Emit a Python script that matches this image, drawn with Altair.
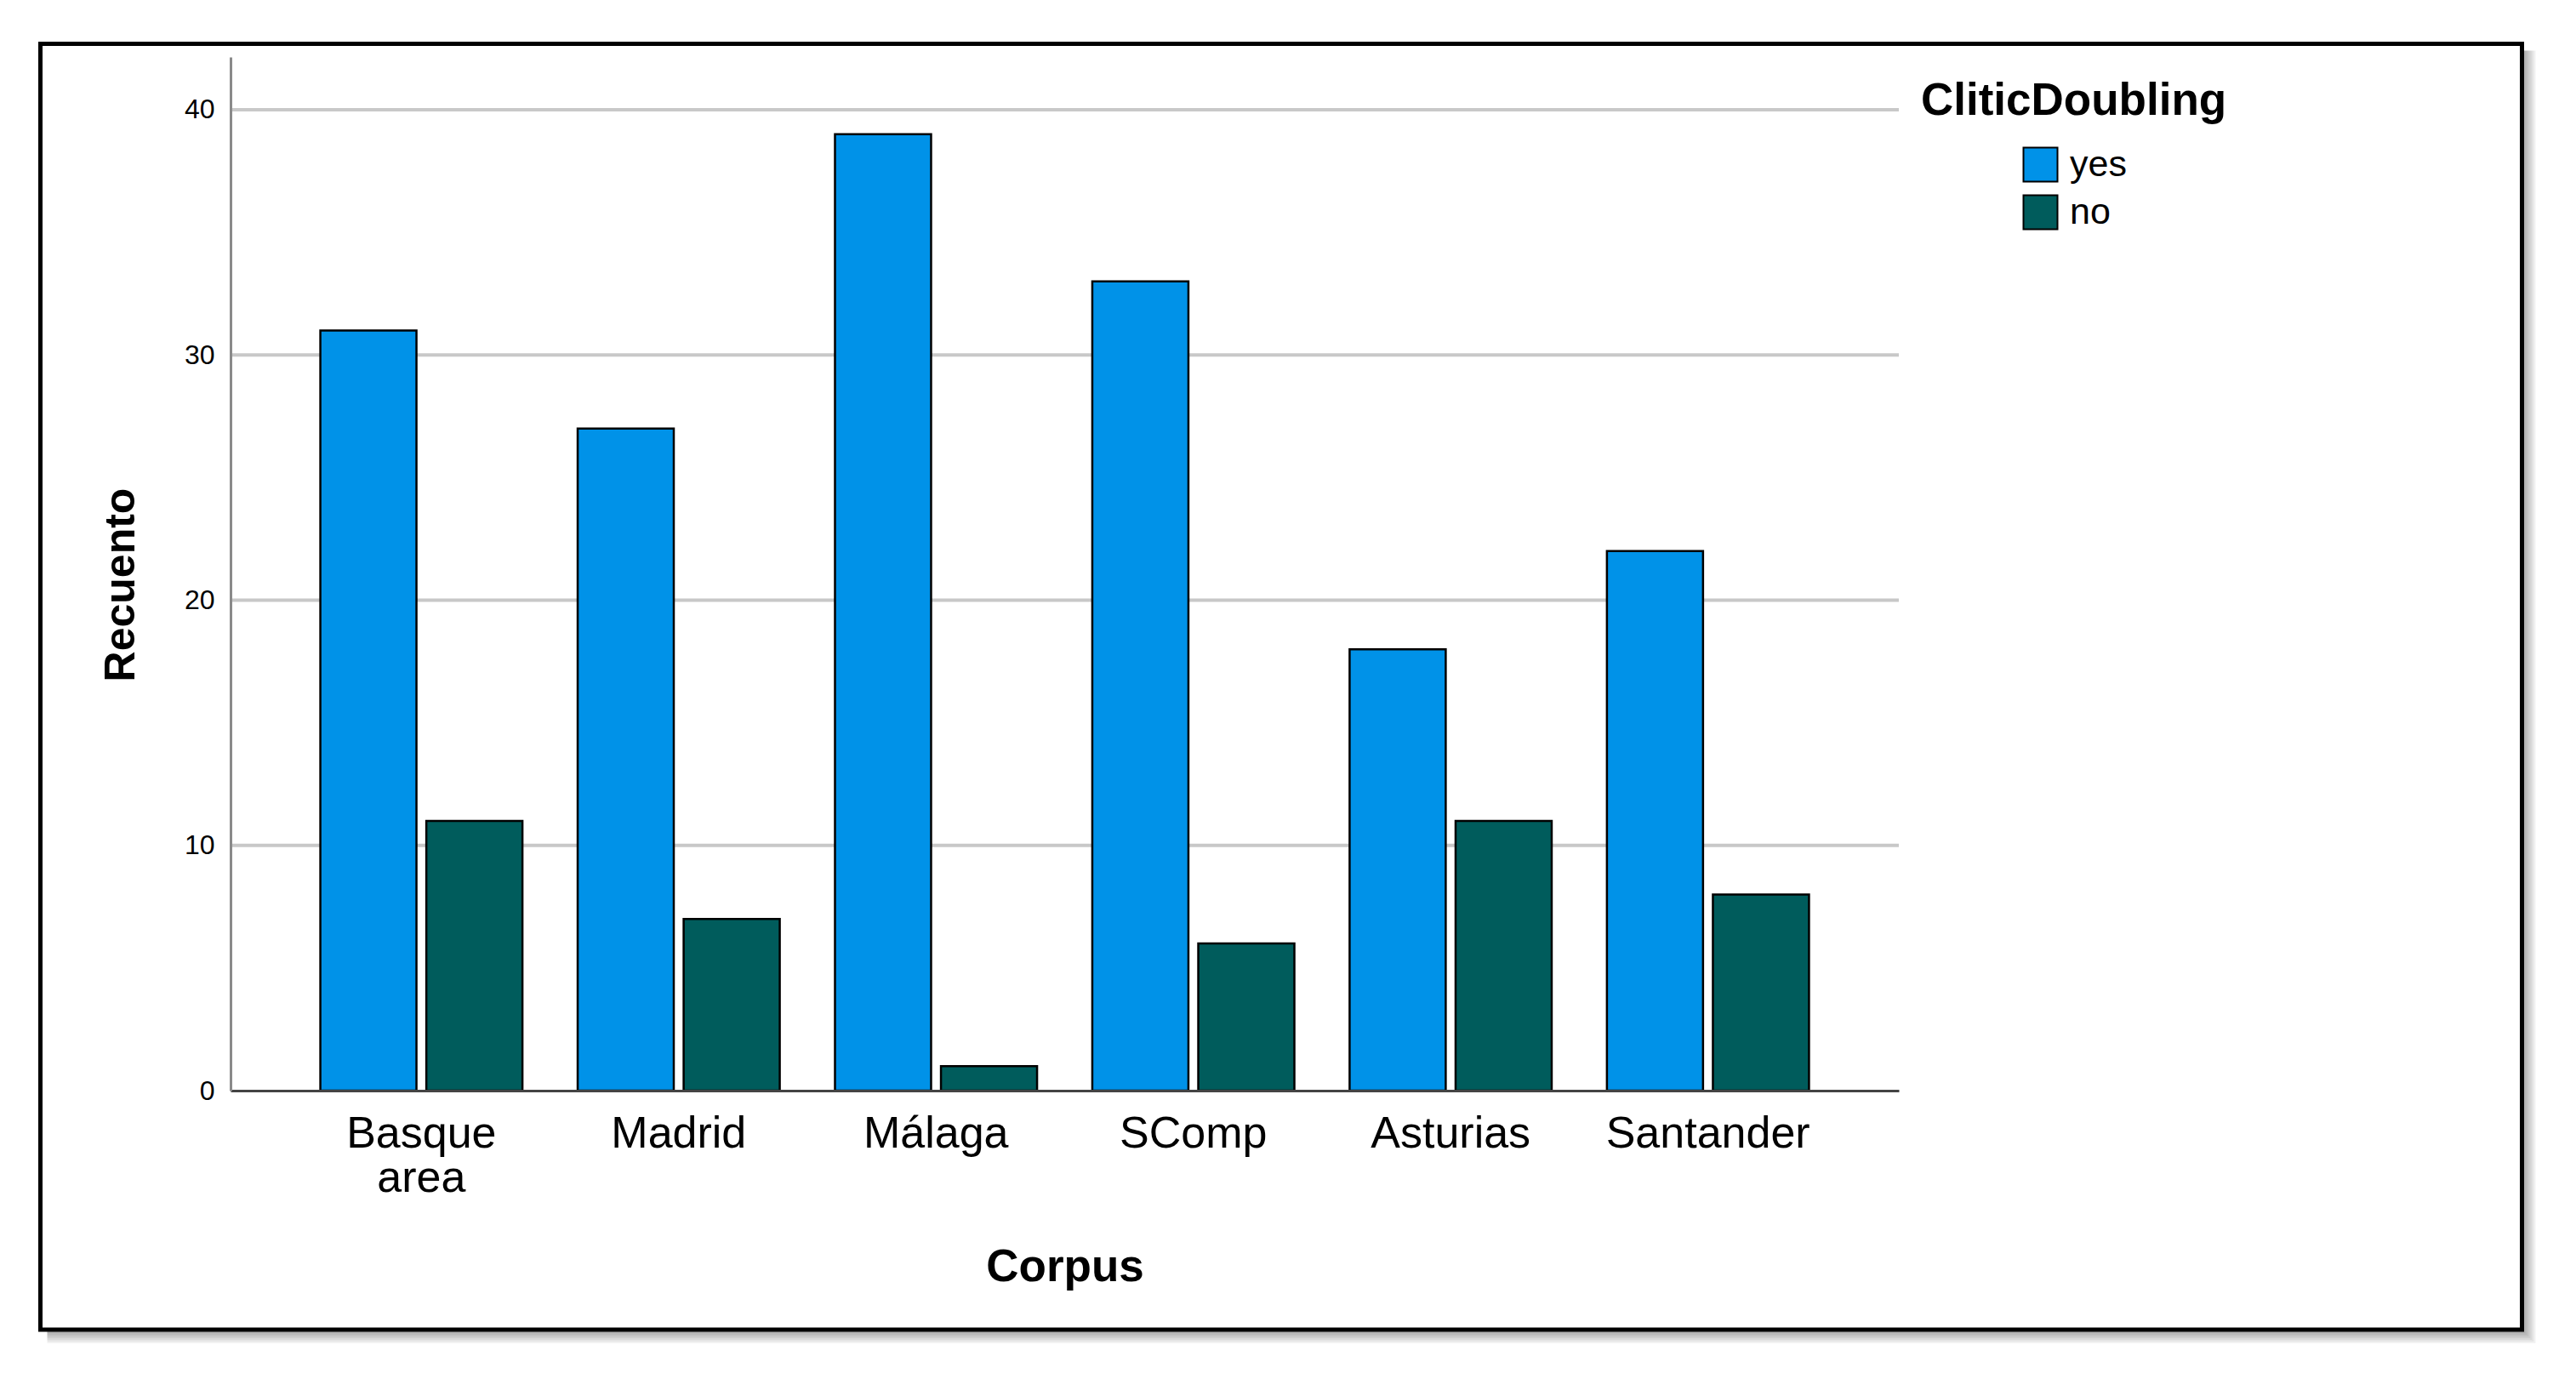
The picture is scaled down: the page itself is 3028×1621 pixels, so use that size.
import altair as alt
import pandas as pd

categories = ["Basque area", "Madrid", "Málaga", "SComp", "Asturias", "Santander"]
yes_counts = [31, 27, 39, 33, 18, 22]
no_counts = [11, 7, 1, 6, 11, 8]
groups = ["yes", "no"]
colors = ["#0092E8", "#005C5C"]
y_ticks = [0, 10, 20, 30, 40]
grid_values = [10, 20, 30, 40]

rows = []
for c, yv, nv in zip(categories, yes_counts, no_counts):
    rows.append({"Corpus": c, "ClitricDoubling": "yes", "Recuento": yv})
    rows.append({"Corpus": c, "ClitricDoubling": "no", "Recuento": nv})
df = pd.DataFrame(rows)

W, H = 1961, 1215
FONT = "Liberation Sans"
one = alt.Data(values=[{"k": 1}])

# frame with a soft drop shadow
shadow_layers = []
for k in range(1, 9):
    shadow_layers.append(
        alt.Chart(one).mark_rect(fill="black", opacity=0.05).encode(
            x=alt.value(-223.5 + 8), x2=alt.value(2693.5 + 2 * k),
            y=alt.value(-15.5 + 8), y2=alt.value(1496 + 2 * k),
        )
    )
frame = alt.Chart(one).mark_rect(fill="white", stroke="black", strokeWidth=5).encode(
    x=alt.value(-223.5), x2=alt.value(2693.5), y=alt.value(-15.5), y2=alt.value(1496)
)

y_scale = alt.Scale(domain=[0, 42.15], nice=False, zero=True)
y_axis = alt.Axis(
    title="Recuento", values=y_ticks, ticks=False, grid=False,
    domainColor="#8a8a8a", domainWidth=3,
    labelFont=FONT, labelFontSize=32, labelColor="black", labelPadding=19,
    titleFont=FONT, titleFontSize=50, titleFontWeight="bold", titleColor="black",
    titleBaseline="alphabetic", titleX=-114, titleY=620, zindex=1,
)

grid = alt.Chart(pd.DataFrame({"Recuento": grid_values})).mark_rule(
    color="#c8c8c8", strokeWidth=4
).encode(
    y=alt.Y("Recuento:Q", scale=y_scale, axis=y_axis),
    x=alt.value(0), x2=alt.value(W),
)

bars = alt.Chart(df).mark_bar(stroke="black", strokeWidth=2.5).encode(
    x=alt.X(
        "Corpus:N", sort=categories,
        scale=alt.Scale(paddingInner=0.2146, paddingOuter=0.349),
        axis=alt.Axis(
            title="Corpus", labelAngle=0, ticks=False, grid=False,
            domainColor="#444444", domainWidth=3,
            labelFont=FONT, labelFontSize=52, labelColor="black", labelPadding=25,
            labelLineHeight=52, labelLimit=600,
            labelExpr="datum.label == 'Basque area' ? ['Basque', 'area'] : datum.label",
            titleFont=FONT, titleFontSize=53, titleFontWeight="bold", titleColor="black",
            titleBaseline="alphabetic", titleY=223, zindex=1,
        ),
    ),
    xOffset=alt.XOffset("ClitricDoubling:N", sort=groups,
                        scale=alt.Scale(paddingInner=0.093, paddingOuter=0)),
    y=alt.Y("Recuento:Q", scale=y_scale, axis=y_axis),
    color=alt.Color(
        "ClitricDoubling:N",
        scale=alt.Scale(domain=groups, range=colors),
        legend=alt.Legend(
            title="CliticDoubling", orient="none", legendX=1987, legendY=26,
            padding=0, titleFont=FONT, titleFontSize=53, titleFontWeight="bold",
            titleColor="black", titlePadding=26, titleLimit=800,
            symbolType="square", symbolSize=1600,
            symbolStrokeColor="black", symbolStrokeWidth=2, symbolOffset=119,
            labelFont=FONT, labelFontSize=43, labelColor="black", labelOffset=13,
            labelLimit=400, rowPadding=7,
        ),
    ),
)

chart = alt.layer(*shadow_layers, frame, grid, bars).properties(
    width=W, height=H,
    autosize=alt.AutoSizeParams(type="none"),
    padding={"left": 263, "top": 59, "right": 750, "bottom": 310},
).configure_view(stroke=None)

chart.save("out.html", embed_options={"renderer": "svg", "actions": False})
